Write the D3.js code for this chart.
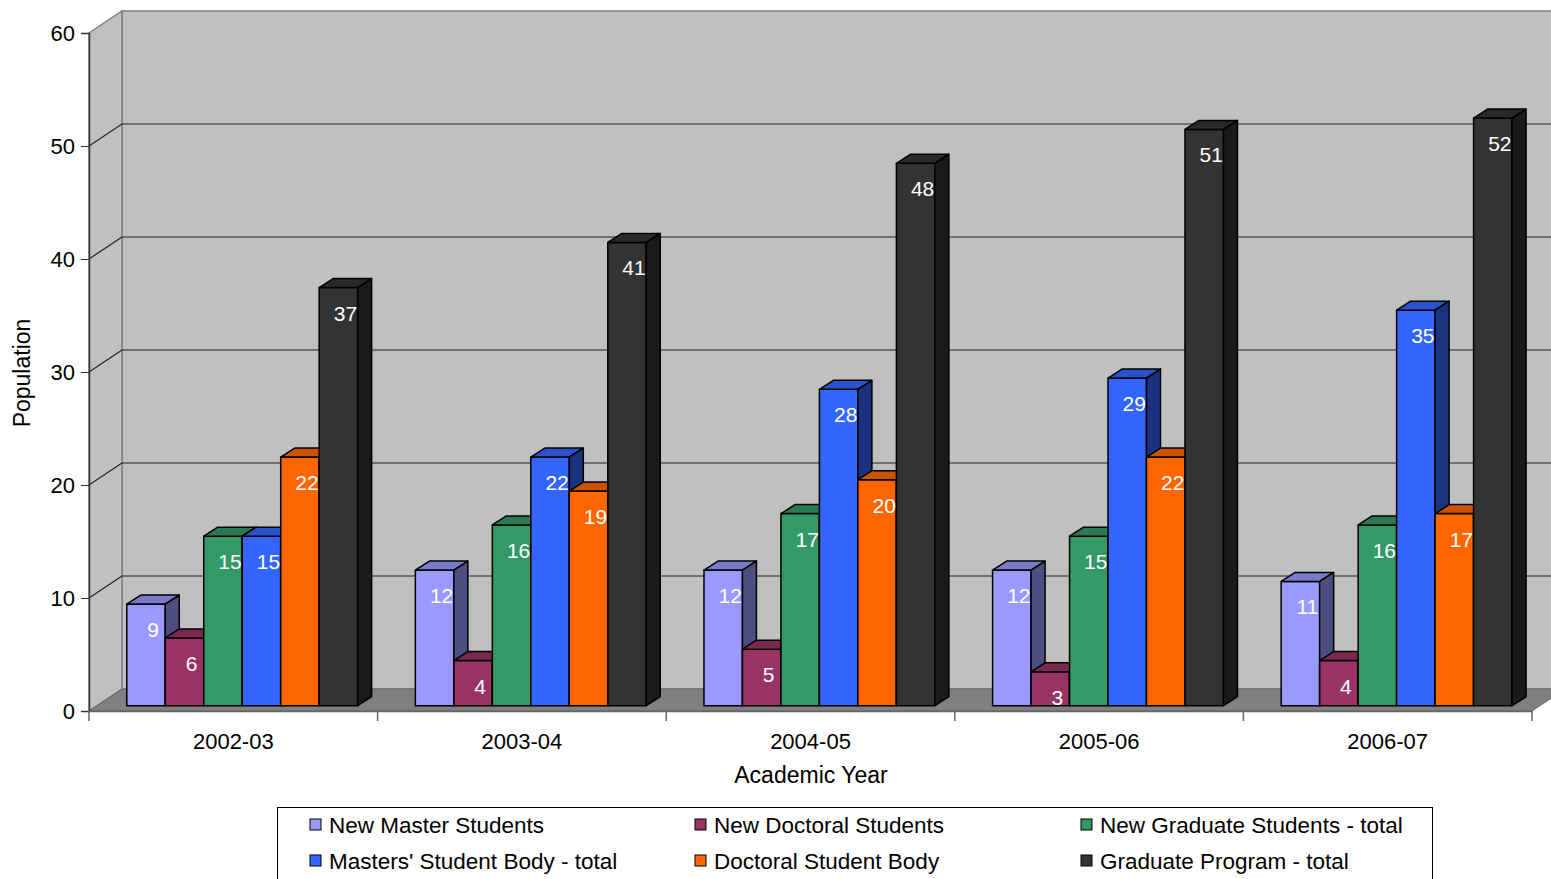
<!DOCTYPE html>
<html lang="en">
<head>
<meta charset="UTF-8">
<title>Graduate Population by Academic Year</title>
<script src="https://d3js.org/d3.v7.min.js"></script>
<style>
    body { margin: 0; background: #fff; font-family: "Liberation Sans", Arial, sans-serif; }
    svg { display: block; }
</style>
</head>
<body>
<div id="chart"></div>
<script>
    // data
    const years = ["2002-03", "2003-04", "2004-05", "2005-06", "2006-07"];
    const seriesNames = ["New Master Students", "New Doctoral Students", "New Graduate Students - total",
                         "Masters' Student Body - total", "Doctoral Student Body", "Graduate Program - total"];
    const newMaster = [9, 12, 12, 12, 11];
    const newDoctoral = [6, 4, 5, 3, 4];
    const newGraduate = [15, 16, 17, 15, 16];
    const mastersBody = [15, 22, 28, 29, 35];
    const doctoralBody = [22, 19, 20, 22, 17];
    const gradProgram = [37, 41, 48, 51, 52];
    const yTicks = [0, 10, 20, 30, 40, 50, 60];

    const seriesColors = ["#9999FF", "#993366", "#339966", "#3366FF", "#FF6600", "#333333"];
    const seriesValues = [newMaster, newDoctoral, newGraduate, mastersBody, doctoralBody, gradProgram];

    const W = 1551, H = 879;
    const DX = 33, DY = 22;          // depth of the walls
    const zf = 0.24;                 // where bars' front face sits in depth
    const bdx = 14, bdy = 9;         // bar depth

    const svg = d3.select("#chart").append("svg").attr("width", W).attr("height", H);

    const x0 = d3.scaleBand().domain(years).range([89, 1532]).padding(0);
    const x1 = d3.scaleBand().domain(seriesNames).range([0, x0.bandwidth() * 0.8]).padding(0);
    const y = d3.scaleLinear().domain([0, 60]).range([711, 33]);

    // walls
    svg.append("rect").attr("x", 89 + DX).attr("y", y(60) - DY)
        .attr("width", W - (89 + DX) + 10).attr("height", y(0) - y(60))
        .attr("fill", "#C0C0C0").attr("stroke", "#808080").attr("stroke-width", 1.5);
    svg.append("polygon")
        .attr("points", [[89, y(60)], [89 + DX, y(60) - DY], [89 + DX, y(0) - DY], [89, y(0)]].join(" "))
        .attr("fill", "#C0C0C0").attr("stroke", "#808080").attr("stroke-width", 1.5);

    // gridlines
    const grid = svg.append("g").attr("stroke", "#222").attr("stroke-width", 1.2);
    yTicks.filter(t => t > 0 && t < 60).forEach(t => {
        grid.append("line").attr("x1", 89).attr("y1", y(t)).attr("x2", 89 + DX).attr("y2", y(t) - DY);
        grid.append("line").attr("x1", 89 + DX).attr("y1", y(t) - DY).attr("x2", W).attr("y2", y(t) - DY);
    });

    // floor
    svg.append("polygon")
        .attr("points", [[89, y(0)], [1532, y(0)], [1532 + DX, y(0) - DY], [89 + DX, y(0) - DY]].join(" "))
        .attr("fill", "#808080").attr("stroke", "#666").attr("stroke-width", 1);

    // y axis
    svg.append("g").attr("transform", "translate(89,0)")
        .call(d3.axisLeft(y).tickValues(yTicks).tickSize(8).tickPadding(6))
        .call(g => g.select(".domain").attr("stroke", "#333").attr("stroke-width", 1.5))
        .call(g => g.selectAll(".tick line").attr("stroke", "#333"))
        .call(g => g.selectAll("text").attr("font-size", 22).attr("fill", "#000")
            .attr("font-family", "Liberation Sans, Arial, sans-serif"));

    // x axis
    svg.append("g").attr("transform", `translate(0,${y(0)})`)
        .call(d3.axisBottom(x0).tickSize(0).tickPadding(22))
        .call(g => g.select(".domain").attr("stroke", "#666").attr("stroke-width", 1.5))
        .call(g => g.selectAll("text").attr("font-size", 22).attr("fill", "#000")
            .attr("font-family", "Liberation Sans, Arial, sans-serif"));
    svg.append("g").selectAll("line")
        .data(d3.range(years.length + 1))
        .join("line")
        .attr("x1", i => 89 + i * x0.step()).attr("x2", i => 89 + i * x0.step())
        .attr("y1", y(0)).attr("y2", y(0) + 10)
        .attr("stroke", "#666").attr("stroke-width", 1.5);

    // bars
    const bars = [];
    years.forEach((yr, i) => {
        seriesNames.forEach((s, j) => {
            bars.push({ yr, s, v: seriesValues[j][i], c: seriesColors[j] });
        });
    });

    const barG = svg.append("g").attr("stroke", "#000").attr("stroke-width", 1.5).attr("stroke-linejoin", "round");
    bars.forEach(d => {
        const w = x1.bandwidth();
        const bx = x0(d.yr) + x0.bandwidth() * 0.1 + x1(d.s) + zf * DX + 1;
        const yt = y(d.v) - zf * DY;
        const yb = y(0) - zf * DY;
        const col = d3.color(d.c);
        const g = barG.append("g");
        g.append("rect").attr("x", bx).attr("y", yt).attr("width", w).attr("height", yb - yt).attr("fill", d.c);
        g.append("polygon")
            .attr("points", [[bx, yt], [bx + w, yt], [bx + w + bdx, yt - bdy], [bx + bdx, yt - bdy]].join(" "))
            .attr("fill", d3.rgb(col.r * 0.8, col.g * 0.8, col.b * 0.8));
        g.append("polygon")
            .attr("points", [[bx + w, yt], [bx + w + bdx, yt - bdy], [bx + w + bdx, yb - bdy], [bx + w, yb]].join(" "))
            .attr("fill", d3.rgb(col.r * 0.5, col.g * 0.5, col.b * 0.5));
        d.lx = bx + (w + bdx) / 2;
        d.ly = yt + 33;
    });

    svg.append("g").selectAll("text")
        .data(bars)
        .join("text")
        .attr("x", d => d.lx).attr("y", d => d.ly)
        .attr("text-anchor", "middle")
        .attr("font-size", 21).attr("fill", "#fff")
        .text(d => d.v);

    // axis titles
    svg.append("text").attr("x", 811).attr("y", 783).attr("text-anchor", "middle")
        .attr("font-size", 23).text("Academic Year");
    svg.append("text").attr("transform", "translate(30,373) rotate(-90)").attr("text-anchor", "middle")
        .attr("font-size", 23).text("Population");

    // legend
    const leg = svg.append("g");
    leg.append("rect").attr("x", 277.5).attr("y", 807.5).attr("width", 1155).attr("height", 90)
        .attr("fill", "#fff").attr("stroke", "#000").attr("stroke-width", 1);
    const colX = [310, 695, 1081];
    const rowY = [825, 861];
    seriesNames.forEach((s, j) => {
        const lx = colX[j % 3], ly = rowY[Math.floor(j / 3)];
        leg.append("rect").attr("x", lx).attr("y", ly - 6).attr("width", 11).attr("height", 11)
            .attr("fill", seriesColors[j]).attr("stroke", "#000").attr("stroke-width", 1);
        leg.append("text").attr("x", lx + 19).attr("y", ly + 8).attr("font-size", 22.5).text(s);
    });
</script>
</body>
</html>
